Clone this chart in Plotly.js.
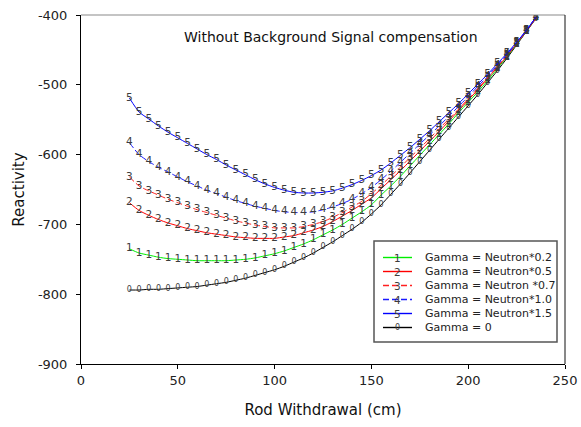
<!DOCTYPE html>
<html>
<head>
<meta charset="utf-8">
<script src="https://cdn.plot.ly/plotly-3.0.1.min.js"></script>
<style>
  html, body { margin: 0; padding: 0; background: #ffffff; }
  #chart { width: 581px; height: 427px; }
</style>
</head>
<body>
<div id="chart"></div>
<script>
// ---------------- DATA ----------------
const rodWithdrawal = [25, 30, 35, 40, 45, 50, 55, 60, 65, 70, 75, 80, 85, 90, 95, 100,
  105, 110, 115, 120, 125, 130, 135, 140, 145, 150, 155, 160, 165, 170, 175, 180,
  185, 190, 195, 200, 205, 210, 215, 220, 225, 230, 235];

const reactivityGamma0 = [-794, -794, -793, -793, -792, -791, -790, -789, -787, -785, -783, -780,
  -777, -773, -769, -765, -760, -754, -748, -741, -733, -725, -716, -707, -697, -685,
  -672, -657, -642, -626, -610, -594, -578, -562, -546, -530, -514, -497, -480, -462,
  -443, -424, -405];

const reactivityN02 = [-735, -741, -744, -747, -749, -750, -751, -752, -752, -752, -752, -751,
  -750, -748, -745, -742, -738, -733, -728, -722, -715, -708, -700, -691, -682, -672,
  -658, -645, -631, -616, -601, -586, -571, -556, -540, -525, -510, -494, -477, -460,
  -442, -423, -404];

const reactivityN05 = [-669, -680, -687, -693, -698, -702, -706, -709, -712, -714, -716, -718,
  -719, -720, -720, -720, -718, -716, -712, -708, -703, -696, -688, -680, -671, -662,
  -649, -636, -623, -609, -595, -581, -567, -552, -537, -522, -507, -491, -475, -459,
  -441, -423, -404];

const reactivityN07 = [-632, -645, -652, -658, -664, -669, -674, -679, -683, -687, -691, -695,
  -698, -701, -703, -705, -705, -705, -703, -700, -696, -690, -683, -675, -667, -656,
  -644, -631, -618, -604, -591, -577, -563, -549, -535, -520, -505, -490, -474, -458,
  -441, -423, -404];

const reactivityN10 = [-583, -600, -610, -618, -625, -632, -639, -645, -651, -656, -661, -666,
  -670, -674, -677, -680, -682, -683, -683, -682, -679, -675, -670, -664, -656, -647,
  -636, -624, -611, -598, -585, -572, -559, -545, -531, -517, -502, -488, -472, -457,
  -440, -422, -403];

const reactivityN15 = [-519, -539, -549, -559, -568, -576, -584, -592, -600, -607, -615, -622,
  -629, -636, -642, -647, -651, -654, -655, -655, -654, -652, -648, -643, -637, -630,
  -622, -612, -601, -590, -578, -566, -553, -540, -527, -513, -499, -485, -470, -455,
  -439, -422, -403];

const seriesNames = ['Gamma = Neutron*0.2', 'Gamma = Neutron*0.5', 'Gamma = Neutron *0.7',
  'Gamma = Neutron*1.0', 'Gamma = Neutron*1.5', 'Gamma = 0'];
const seriesLabels = ['1', '2', '3', '4', '5', '0'];
const seriesValues = [reactivityN02, reactivityN05, reactivityN07, reactivityN10, reactivityN15, reactivityGamma0];

const xTicks = [0, 50, 100, 150, 200, 250];
const yTicks = [-900, -800, -700, -600, -500, -400];
const yTickText = ['-900', '-800', '-700', '-600', '-500', '-400'];

// ---------------- STYLE ----------------
const seriesColors = ['#00ee00', '#ff0000', '#ff2020', '#1a1aff', '#0000ff', '#000000'];
const seriesDash = ['solid', 'solid', '6px,3px', '6px,3px', 'solid', 'solid'];
const labelSizes = [10.5, 10.5, 10.5, 10.5, 10.5, 8];
const FONT = 'DejaVu Sans, Verdana, sans-serif';

// plot-area geometry (pixels) for the legend helpers
const M = { l: 81, r: 16, t: 15, b: 63 };
const PW = 581 - M.l - M.r, PH = 427 - M.t - M.b;
const px = x => (x - M.l) / PW;
const py = y => (427 - M.b - y) / PH;

// draw order: Gamma = 0 first, then 1..5 so blue ends on top
const order = [5, 0, 1, 2, 3, 4];
const traces = order.map(i => ({
  type: 'scatter',
  mode: 'lines+text',
  x: rodWithdrawal,
  y: seriesValues[i],
  name: seriesNames[i],
  text: rodWithdrawal.map(() => seriesLabels[i]),
  textposition: 'middle center',
  textfont: { family: FONT, size: labelSizes[i], color: '#3c3c3c' },
  line: { color: seriesColors[i], width: 1, dash: seriesDash[i], shape: 'spline', smoothing: 0.6 },
  showlegend: false,
  hoverinfo: 'skip'
}));

// ---------------- custom legend ----------------
const legendBox = { x0: 374, x1: 557, y0: 241, y1: 342 };
const legendRow0 = 257.5, legendStep = 14;
const shapes = [
  // gray top frame and black right frame
  { type: 'line', xref: 'paper', yref: 'paper', x0: 0, x1: 1, y0: 1, y1: 1, line: { color: '#8a8a8a', width: 1.2 } },
  { type: 'line', xref: 'paper', yref: 'paper', x0: 1, x1: 1, y0: 0, y1: 1, line: { color: '#111111', width: 1 } },
  { type: 'rect', xref: 'paper', yref: 'paper', x0: px(legendBox.x0), x1: px(legendBox.x1),
    y0: py(legendBox.y1), y1: py(legendBox.y0), fillcolor: '#ffffff', line: { color: '#555555', width: 1.5 } }
];
const annotations = [
  { xref: 'paper', yref: 'paper', x: px(331), y: py(37), xanchor: 'center', yanchor: 'middle',
    text: 'Without Background Signal compensation', showarrow: false,
    font: { family: FONT, size: 14, color: '#111111' } }
];
seriesNames.forEach((nm, i) => {
  const yy = legendRow0 + i * legendStep;
  shapes.push({ type: 'line', xref: 'paper', yref: 'paper', x0: px(383), x1: px(412), y0: py(yy), y1: py(yy),
    layer: 'above', line: { color: seriesColors[i], width: 1.4, dash: seriesDash[i] } });
  annotations.push({ xref: 'paper', yref: 'paper', x: px(397.5), y: py(yy), xanchor: 'center', yanchor: 'middle',
    text: seriesLabels[i], showarrow: false, font: { family: FONT, size: labelSizes[i], color: '#3c3c3c' } });
  annotations.push({ xref: 'paper', yref: 'paper', x: px(423), y: py(yy), xanchor: 'left', yanchor: 'middle',
    text: nm, showarrow: false, font: { family: FONT, size: 11, color: '#222222' } });
});

const layout = {
  width: 581, height: 427,
  margin: M,
  paper_bgcolor: '#ffffff', plot_bgcolor: '#ffffff',
  showlegend: false,
  hovermode: false,
  font: { family: FONT, color: '#222222' },
  xaxis: {
    range: [0, 250], tickvals: xTicks, ticks: 'outside', ticklen: 4, tickcolor: '#000',
    showline: true, linecolor: '#000', linewidth: 1, showgrid: false, zeroline: false,
    tickfont: { family: FONT, size: 13, color: '#222' },
    title: { text: 'Rod Withdrawal (cm)', font: { family: FONT, size: 15, color: '#111' }, standoff: 17 },
    automargin: false
  },
  yaxis: {
    range: [-900, -400], tickvals: yTicks, ticktext: yTickText, ticks: 'outside', ticklen: 4, tickcolor: '#000',
    showline: true, linecolor: '#000', linewidth: 1, showgrid: false, zeroline: false,
    tickfont: { family: FONT, size: 13, color: '#222' }, ticklabelstandoff: 6,
    title: { text: 'Reactivity', font: { family: FONT, size: 15, color: '#111' }, standoff: 9 },
    automargin: false
  },
  shapes: shapes,
  annotations: annotations
};

Plotly.newPlot('chart', traces, layout, { staticPlot: true, displayModeBar: false });
</script>
</body>
</html>
